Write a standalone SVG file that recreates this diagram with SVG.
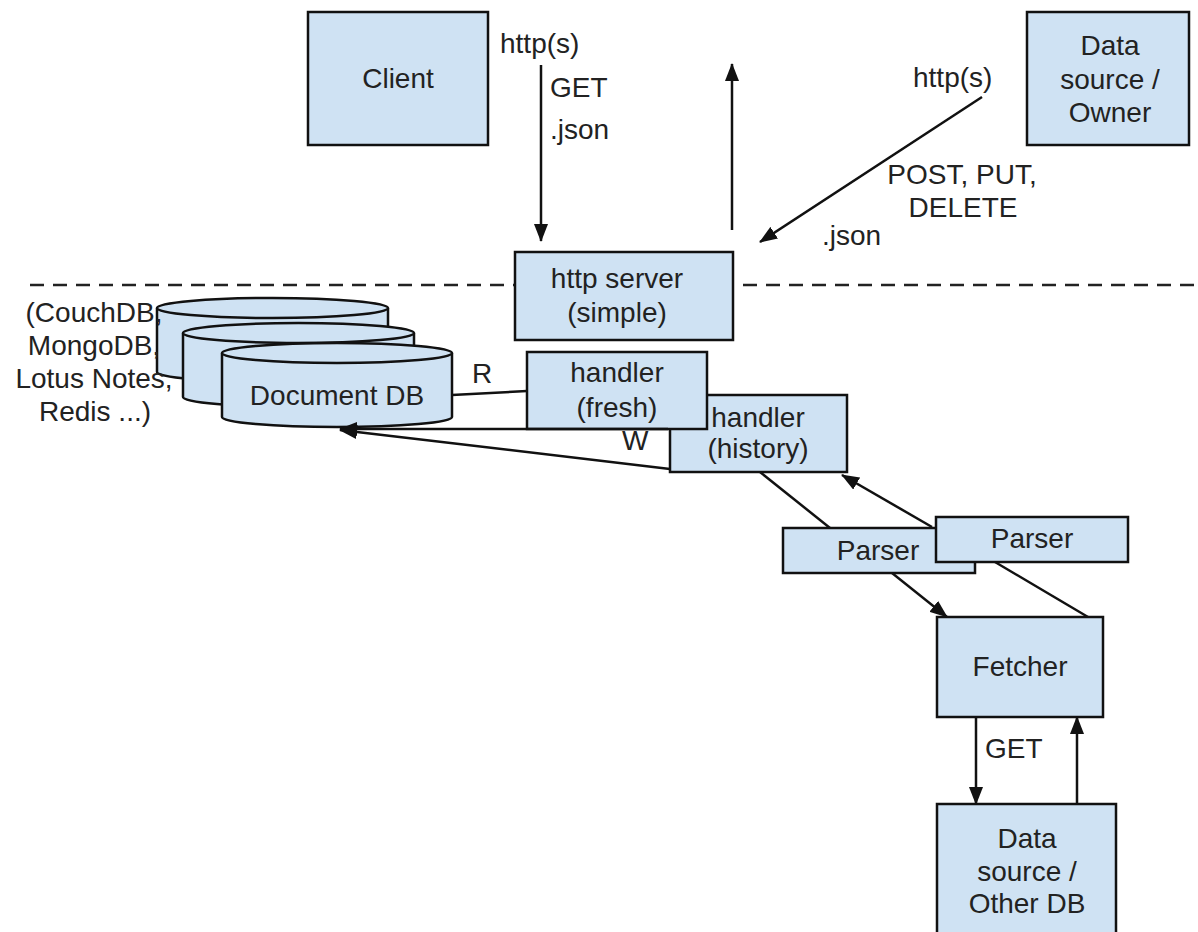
<svg xmlns="http://www.w3.org/2000/svg" width="1198" height="932" viewBox="0 0 1198 932">
<style>
.box{fill:#cfe2f3;stroke:#111;stroke-width:2.5}
.t{font-family:"Liberation Sans",Arial,sans-serif;font-size:28px;fill:#222}
.m{text-anchor:middle}
.c{stroke:#111;stroke-width:2.5;fill:none}
.a{marker-end:url(#ah)}
</style>
<defs>
<marker id="ah" markerUnits="userSpaceOnUse" markerWidth="18" markerHeight="14" refX="17" refY="7" orient="auto" viewBox="0 0 18 14">
<path d="M0,0 L18,7 L0,14 z" fill="#111"/>
</marker>
</defs>
<rect width="1198" height="932" fill="#fff"/>
<line x1="30" y1="285" x2="1198" y2="285" stroke="#222" stroke-width="2.5" stroke-dasharray="14 9"/>

<g id="client"><rect class="box" x="308" y="12" width="180" height="133"/><text class="t m" x="398" y="88">Client</text></g>
<g id="owner"><rect class="box" x="1027" y="12" width="162" height="133"/><text class="t m" x="1110" y="55">Data</text><text class="t m" x="1110" y="89">source /</text><text class="t m" x="1110" y="122">Owner</text></g>
<g id="httpserver"><rect class="box" x="515" y="252" width="218" height="88"/><text class="t m" x="617" y="288">http server</text><text class="t m" x="617" y="322">(simple)</text></g>

<g id="docdb">
<path class="box" d="M157,308 V372 A115.5,10 0 0 0 388,372 V308"/><ellipse class="box" cx="272.5" cy="308" rx="115.5" ry="10"/>
<path class="box" d="M183,333 V397 A115.5,10 0 0 0 414,397 V333"/><ellipse class="box" cx="298.5" cy="333" rx="115.5" ry="10"/>
<path class="box" d="M222,353 V417 A115,10 0 0 0 452,417 V353"/><ellipse class="box" cx="337" cy="353" rx="115" ry="10"/>
<text class="t m" x="337" y="405">Document DB</text>
</g>
<g id="dbnames">
<text class="t m" x="94" y="322">(CouchDB,</text><text class="t m" x="94" y="355">MongoDB,</text><text class="t m" x="94" y="388">Lotus Notes,</text><text class="t m" x="95" y="421">Redis ...)</text>
</g>

<g id="history"><rect class="box" x="670" y="395" width="177" height="77"/><text class="t m" x="758" y="427">handler</text><text class="t m" x="758" y="458">(history)</text></g>
<g id="fresh"><rect class="box" x="527" y="352" width="180" height="77"/><text class="t m" x="617" y="382">handler</text><text class="t m" x="617" y="417">(fresh)</text></g>

<g id="parser1"><rect class="box" x="783" y="528" width="192" height="45"/><text class="t m" x="878" y="560">Parser</text></g>
<g id="parser2"><rect class="box" x="936" y="517" width="192" height="45"/><text class="t m" x="1032" y="548">Parser</text></g>
<g id="fetcher"><rect class="box" x="937" y="617" width="166" height="100"/><text class="t m" x="1020" y="676">Fetcher</text></g>
<g id="otherdb"><rect class="box" x="937" y="804" width="179" height="140"/><text class="t m" x="1027" y="848">Data</text><text class="t m" x="1027" y="881">source /</text><text class="t m" x="1027" y="913">Other DB</text></g>

<g id="connectors">
<line class="c a" x1="541" y1="65" x2="541" y2="241"/>
<line class="c a" x1="732" y1="230" x2="732" y2="64"/>
<line class="c a" x1="982" y1="97" x2="760" y2="242"/>
<line class="c" x1="452" y1="395" x2="527" y2="391"/>
<line class="c a" x1="668" y1="429" x2="340" y2="429"/>
<line class="c a" x1="670" y1="469" x2="340" y2="430"/>
<line class="c" x1="760" y1="472" x2="830" y2="528"/>
<line class="c a" x1="932" y1="527" x2="842" y2="475"/>
<line class="c a" x1="892" y1="573" x2="947" y2="617"/>
<line class="c" x1="995" y1="562" x2="1088" y2="617"/>
<line class="c a" x1="976" y1="717" x2="976" y2="804"/>
<line class="c a" x1="1077" y1="804" x2="1077" y2="717"/>
</g>
<g id="labels">
<text class="t" x="500" y="53">http(s)</text>
<text class="t" x="550" y="97">GET</text>
<text class="t" x="550" y="139">.json</text>
<text class="t" x="913" y="87">http(s)</text>
<text class="t m" x="962" y="184">POST, PUT,</text>
<text class="t m" x="963" y="217">DELETE</text>
<text class="t" x="822" y="245">.json</text>
<text class="t" x="472" y="383">R</text>
<text class="t" x="622" y="450">W</text>
<text class="t" x="985" y="758">GET</text>
</g>
</svg>
